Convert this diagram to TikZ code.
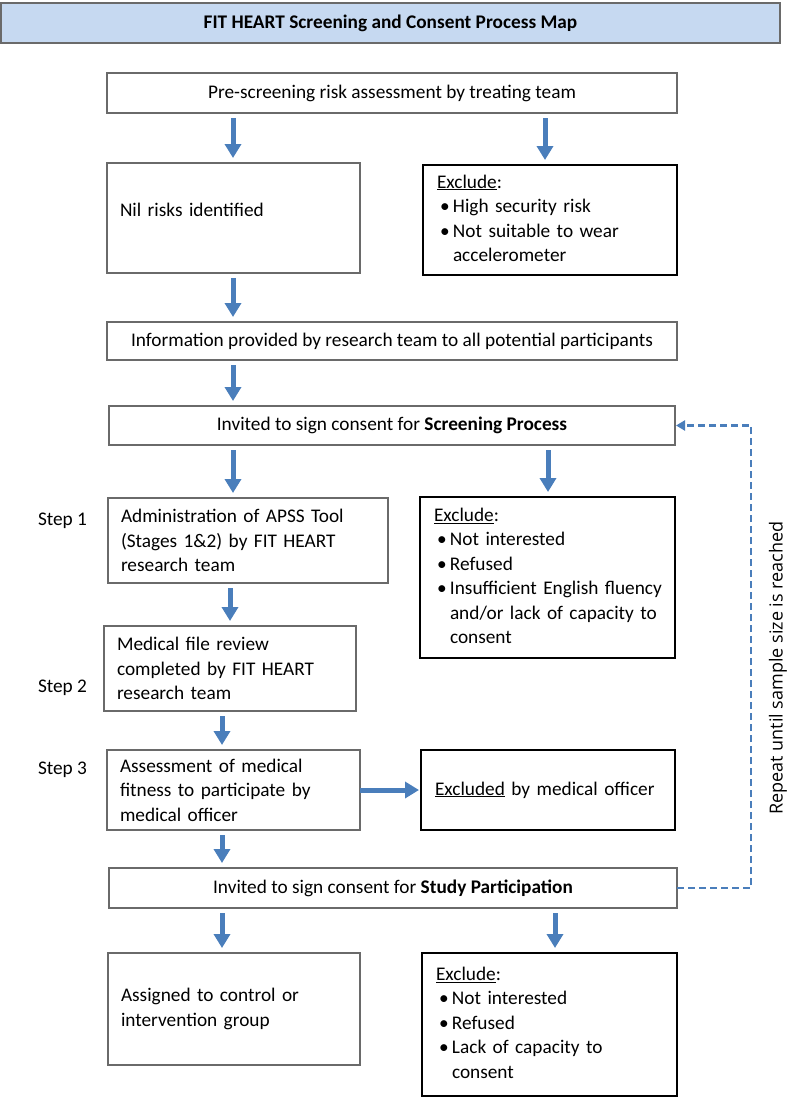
\documentclass[tikz,border=0pt]{standalone}
\usepackage{fontspec}
\setmainfont{Carlito}
\newfontfamily\vfont{Open Sans}
\usetikzlibrary{arrows.meta,calc}
\definecolor{arrblue}{HTML}{4A7EBB}
\definecolor{titlefill}{HTML}{C6D9F1}
\definecolor{boxgray}{HTML}{6A6A6A}
\newcommand\bul{\hspace*{3pt}\makebox[13pt][l]{\textbullet}}
\newcommand\cont{\hspace*{16pt}}
\newenvironment{exlist}{\begin{tabular}{@{}l@{}}}{\end{tabular}}
\begin{document}
\begin{tikzpicture}[x=1pt,y=-1pt,
  base/.style={font=\fontsize{19.3}{24.5}\selectfont, inner sep=0pt, outer sep=0pt},
  plainbox/.style={base, draw=boxgray, line width=1.1pt, align=center},
  leftbox/.style={base, draw=boxgray, line width=1.1pt, align=left, inner xsep=13pt},
  exbox/.style={base, draw=black, line width=2.8pt, align=left, inner xsep=14pt},
  arr/.style={draw=arrblue, line width=5pt, -{Triangle[width=16pt,length=14pt]}, shorten <=5pt, shorten >=5pt},
  repeatline/.style={draw=arrblue, line width=2.2pt, dash pattern=on 7pt off 4pt, -{Triangle[width=10pt,length=9pt]}},
]
\useasboundingbox (0,0) rectangle (789,1101);

% title
\node[plainbox, fill=titlefill, draw=boxgray, minimum width=779, minimum height=40,
      font=\fontsize{19.3}{24.5}\selectfont\bfseries] (title) at (390.5,23) {FIT HEART Screening and Consent Process Map};

% boxes
\node[plainbox, minimum width=570, minimum height=40] (pre) at (392,93) {Pre-screening risk assessment by treating team};
\node[leftbox, minimum width=253, minimum height=110, text width=227] (nil) at (233.5,218) {\raisebox{2pt}[0pt][0pt]{Nil risks identified}};
\node[exbox, minimum width=254, minimum height=110, text width=226] (ex1) at (550,220)
  {\begin{exlist}\underline{Exclude}:\\ \bul High security risk\\ \bul Not suitable to wear\\ \cont accelerometer\end{exlist}};
\node[plainbox, minimum width=570, minimum height=38] (info) at (392,341) {Information provided by research team to all potential participants};
\node[plainbox, minimum width=566, minimum height=39] (screen) at (392,425.5) {Invited to sign consent for \textbf{Screening Process}};

\node[leftbox, minimum width=280, minimum height=85, text width=254, inner xsep=13pt] (apss) at (248,540.5)
  {Administration of APSS Tool\\ (Stages 1\&2) by FIT HEART\\ research team};
\node[exbox, minimum width=255, minimum height=161, text width=227] (ex2) at (547.5,577.5)
  {\begin{exlist}\underline{Exclude}:\\ \bul Not interested\\ \bul Refused\\ \bul Insufficient English fluency\\ \cont and/or lack of capacity to\\ \cont consent\end{exlist}};

\node[leftbox, minimum width=252, minimum height=85, text width=226] (med) at (230,668.5)
  {Medical file review\\ completed by FIT HEART\\ research team};
\node[leftbox, minimum width=253, minimum height=80, text width=227] (assess) at (233.5,790)
  {Assessment of medical\\ fitness to participate by\\ medical officer};
\node[exbox, minimum width=254, minimum height=80, text width=226] (excl) at (548,790)
  {\underline{Excluded} by medical officer};

\node[plainbox, minimum width=568, minimum height=40] (study) at (393,888) {Invited to sign consent for \textbf{Study Participation}};
\node[leftbox, minimum width=252, minimum height=112, text width=226] (assign) at (234,1009)
  {Assigned to control or\\ intervention group};
\node[exbox, minimum width=255, minimum height=143, text width=227] (ex3) at (549.5,1024.5)
  {\begin{exlist}\underline{Exclude}:\\ \bul Not interested\\ \bul Refused\\ \bul Lack of capacity to\\ \cont consent\end{exlist}};

% step labels
\node[base, anchor=west] (s1) at (38,521) {Step 1};
\node[base, anchor=west] (s2) at (38,688) {Step 2};
\node[base, anchor=west] (s3) at (38,770) {Step 3};

% repeat label
\node[font=\vfont\fontsize{18}{20}\selectfont, rotate=90, inner sep=0pt] (rep) at (778,668) {Repeat until sample size is reached};

% arrow x positions
\coordinate (ax1) at (233,0);
\coordinate (ax2) at (230,0);
\coordinate (ax3) at (222,0);
\coordinate (bx1) at (545,0);
\coordinate (bx2) at (548,0);
\coordinate (bx3) at (555,0);
\coordinate (rc) at (751,0);

\draw[arr] (pre.south -| ax1) -- (nil.north -| ax1);
\draw[arr] (pre.south -| bx1) -- (ex1.north -| bx1);
\draw[arr] (nil.south -| ax1) -- (info.north -| ax1);
\draw[arr] (info.south -| ax1) -- (screen.north -| ax1);
\draw[arr] (screen.south -| ax1) -- (apss.north -| ax1);
\draw[arr] (screen.south -| bx2) -- (ex2.north -| bx2);
\draw[arr] (apss.south -| ax2) -- (med.north -| ax2);
\draw[arr] (med.south -| ax3) -- (assess.north -| ax3);
\draw[arr, shorten <=0pt, shorten >=2pt] (assess.east) -- (excl.west);
\draw[arr] (assess.south -| ax3) -- (study.north -| ax3);
\draw[arr] (study.south -| ax3) -- (assign.north -| ax3);
\draw[arr] (study.south -| bx3) -- (ex3.north -| bx3);

\draw[repeatline] (study.east) -- (study.east -| rc) -- (screen.east -| rc) -- ([xshift=1pt]screen.east);
\end{tikzpicture}
\end{document}
